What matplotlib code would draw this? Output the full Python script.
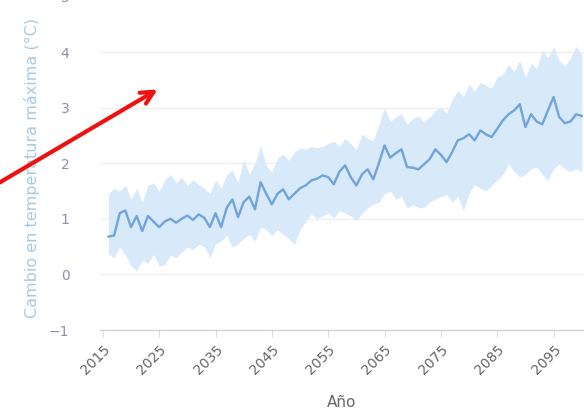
import matplotlib
matplotlib.use("Agg")
import matplotlib.pyplot as plt
import numpy as np

years = list(range(2016, 2101))
mean_change = [0.68, 0.70, 1.10, 1.15, 0.85, 1.05, 0.78, 1.05, 0.95, 0.85,
               0.95, 1.00, 0.93, 1.00, 1.06, 0.98, 1.08, 1.02, 0.85, 1.10,
               0.85, 1.20, 1.35, 1.03, 1.30, 1.40, 1.17, 1.66, 1.45, 1.26,
               1.45, 1.53, 1.35, 1.45, 1.55, 1.60, 1.69, 1.72, 1.78, 1.75,
               1.62, 1.85, 1.96, 1.75, 1.60, 1.80, 1.89, 1.71, 2.00, 2.32,
               2.10, 2.18, 2.25, 1.93, 1.92, 1.89, 1.98, 2.07, 2.25, 2.15,
               2.02, 2.20, 2.41, 2.45, 2.52, 2.41, 2.59, 2.52, 2.47, 2.62,
               2.77, 2.88, 2.95, 3.06, 2.65, 2.88, 2.75, 2.70, 2.95, 3.19,
               2.83, 2.72, 2.75, 2.88, 2.85]
upper_change = [1.45, 1.55, 1.50, 1.60, 1.35, 1.55, 1.30, 1.60, 1.65, 1.50,
                1.70, 1.80, 1.65, 1.75, 1.60, 1.70, 1.62, 1.55, 1.45, 1.70,
                1.55, 1.80, 1.87, 1.65, 2.07, 1.80, 2.00, 2.32, 1.95, 1.85,
                2.10, 2.16, 2.05, 2.20, 2.27, 2.25, 2.30, 2.28, 2.30, 2.35,
                2.40, 2.30, 2.45, 2.35, 2.25, 2.52, 2.45, 2.40, 2.70, 3.00,
                2.75, 2.83, 2.90, 2.70, 2.80, 2.85, 2.75, 2.83, 2.95, 3.00,
                2.90, 3.15, 3.30, 3.20, 3.42, 3.30, 3.45, 3.40, 3.35, 3.55,
                3.60, 3.78, 3.65, 3.85, 3.55, 3.80, 3.70, 4.03, 3.90, 4.09,
                3.85, 3.75, 3.90, 4.10, 3.95]
lower_change = [0.36, 0.30, 0.50, 0.35, 0.15, 0.07, 0.25, 0.20, 0.36, 0.15,
                0.18, 0.35, 0.30, 0.40, 0.49, 0.45, 0.54, 0.50, 0.30, 0.55,
                0.60, 0.70, 0.49, 0.55, 0.65, 0.72, 0.60, 0.85, 0.80, 0.70,
                0.80, 0.72, 0.65, 0.54, 0.80, 0.95, 1.08, 1.00, 1.05, 1.10,
                1.02, 1.15, 1.10, 1.05, 0.97, 1.10, 1.20, 1.26, 1.30, 1.45,
                1.50, 1.35, 1.40, 1.20, 1.25, 1.20, 1.20, 1.30, 1.35, 1.40,
                1.44, 1.30, 1.40, 1.15, 1.45, 1.62, 1.55, 1.50, 1.60, 1.70,
                1.80, 1.98, 1.85, 1.75, 1.80, 1.90, 1.93, 1.80, 1.69, 1.90,
                1.98, 1.90, 1.85, 1.90, 1.85]
x_ticks = list(range(2015, 2100, 10))
y_ticks = [-1, 0, 1, 2, 3, 4, 5]

fig = plt.figure(figsize=(5.84, 4.09), dpi=100)
ax = fig.add_axes([100/584, 1 - 330/409, 484/584, 333.6/409])

ax.fill_between(years, lower_change, upper_change, color="#d8e9fa", lw=0, zorder=2)
ax.plot(years, mean_change, color="#70a4da", lw=1.7, zorder=3)

ax.set_xlim(2014.5, 2100.4)
ax.set_ylim(-1, 5)
ax.set_xticks(x_ticks)
ax.set_yticks(y_ticks)
ax.set_xticklabels([str(t) for t in x_ticks], rotation=45, ha="right",
                   rotation_mode="anchor", color="#666666", fontsize=10)
ax.set_yticklabels(["\u22121" if t < 0 else str(t) for t in y_ticks],
                   color="#8f8fb0", fontsize=10)

ax.grid(axis="y", color="#eeeeee", lw=1, zorder=0)
ax.grid(axis="x", visible=False)
for s in ["top", "right", "left"]:
    ax.spines[s].set_visible(False)
ax.spines["bottom"].set_color("#cccccc")
ax.tick_params(axis="y", length=0, pad=22)
ax.tick_params(axis="x", length=5, color="#dddddd", pad=4)

ax.set_ylabel("Cambio en temperatura máxima (°C)", color="#a6c8e8", fontsize=11.5)
ax.yaxis.set_label_coords(-60/484, (330 - 168) / 333.6)
ax.set_xlabel("Año", color="#666666", fontsize=11, labelpad=13)

ax.annotate("", xy=(160, 409 - 88), xytext=(-8, 409 - 187),
            xycoords="figure pixels", textcoords="figure pixels",
            arrowprops=dict(arrowstyle="->,head_length=0.9,head_width=0.45",
                            color="#ee1111", lw=3))

fig.savefig("out.png", dpi=100)
